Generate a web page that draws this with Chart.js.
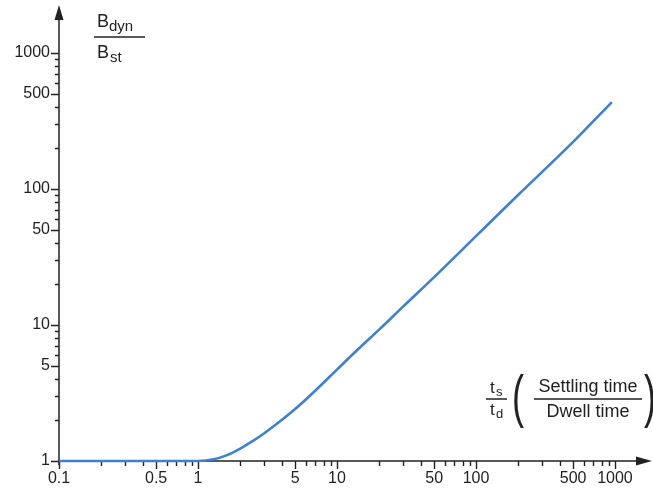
<!DOCTYPE html>
<html>
<head>
<meta charset="utf-8">
<script src="https://cdn.jsdelivr.net/npm/chart.js@4/dist/chart.umd.min.js"></script>
<style>
  html, body { margin: 0; padding: 0; background: #ffffff; }
  #wrap { width: 653px; height: 489px; }
</style>
</head>
<body>
<div id="wrap"><canvas id="c" width="653" height="489"></canvas></div>
<script>
// Ratio of settling time to dwell time (t_s / t_d)
const ratioX = [0.1, 0.2, 0.3, 0.5, 0.7, 1, 1.3, 1.6, 2, 2.5, 3, 4, 5, 7, 10, 15, 20, 30, 50, 100, 200, 500, 950];
// Dynamic to static ratio (B_dyn / B_st)
const ratioY = [1, 1, 1, 1, 1, 1, 1.03, 1.1, 1.23, 1.41, 1.6, 2.0, 2.41, 3.3, 4.7, 7, 9.2, 13.7, 22.5, 45, 90, 222, 436];

// Tick positions and which of them carry labels
const xTickValues = [0.1,0.2,0.3,0.4,0.5,0.6,0.7,0.8,0.9,1,2,3,4,5,6,7,8,9,10,20,30,40,50,60,70,80,90,100,200,300,400,500,600,700,800,900,1000];
const xTickLabels = [0.1, 0.5, 1, 5, 10, 50, 100, 500, 1000];
const yTickValues = [1,2,3,4,5,6,7,8,9,10,20,30,40,50,60,70,80,90,100,200,300,400,500,600,700,800,900,1000];
const yTickLabels = [1, 5, 10, 50, 100, 500, 1000];

const INK = '#222222';
const FONT = '"Liberation Sans", Arial, Helvetica, sans-serif';

function isLabeled(list, v) {
  return list.some(t => Math.abs(t - v) / t < 1e-6);
}

// Axis lines with arrows and short tick marks
const axesPlugin = {
  id: 'arrowAxes',
  beforeDatasetsDraw(chart) {
    const ctx = chart.ctx;
    const area = chart.chartArea;
    const xs = chart.scales.x, ys = chart.scales.y;
    const x0 = area.left, y0 = area.bottom;
    ctx.save();
    ctx.strokeStyle = INK;
    ctx.fillStyle = INK;
    ctx.lineWidth = 1.5;
    ctx.beginPath();
    ctx.moveTo(x0, y0 + 4);
    ctx.lineTo(x0, area.top + 12);
    ctx.moveTo(x0 - 1, y0);
    ctx.lineTo(area.right - 10, y0);
    ctx.stroke();
    // arrow heads
    ctx.beginPath();
    ctx.moveTo(x0, area.top);
    ctx.lineTo(x0 - 4.5, area.top + 15);
    ctx.lineTo(x0 + 4.5, area.top + 15);
    ctx.closePath();
    ctx.fill();
    ctx.beginPath();
    ctx.moveTo(area.right + 2, y0);
    ctx.lineTo(area.right - 14, y0 - 4.5);
    ctx.lineTo(area.right - 14, y0 + 4.5);
    ctx.closePath();
    ctx.fill();
    // tick marks
    ctx.lineWidth = 1.4;
    ctx.beginPath();
    ys.ticks.forEach(t => {
      const py = Math.round(ys.getPixelForValue(t.value)) + 0.5;
      const len = isLabeled(yTickLabels, t.value) ? 8 : 4;
      ctx.moveTo(x0 - len, py);
      ctx.lineTo(x0, py);
    });
    xs.ticks.forEach(t => {
      const px = Math.round(xs.getPixelForValue(t.value)) + 0.5;
      const len = isLabeled(xTickLabels, t.value) ? 8 : 5;
      ctx.moveTo(px, y0);
      ctx.lineTo(px, y0 + len);
    });
    ctx.stroke();
    ctx.restore();
  },
  afterDraw(chart) {
    const ctx = chart.ctx;
    ctx.save();
    ctx.fillStyle = INK;
    ctx.strokeStyle = INK;
    ctx.textBaseline = 'alphabetic';
    ctx.textAlign = 'left';
    // y-axis title: B_dyn / B_st
    ctx.font = '18px ' + FONT;
    ctx.fillText('B', 97, 27);
    ctx.fillText('B', 97, 58);
    ctx.font = '15px ' + FONT;
    ctx.fillText('dyn', 109, 31);
    ctx.fillText('st', 110, 62);
    ctx.lineWidth = 1.3;
    ctx.beginPath();
    ctx.moveTo(94, 37);
    ctx.lineTo(145, 37);
    ctx.stroke();

    // x-axis title: t_s / t_d (Settling time / Dwell time)
    ctx.font = '17px ' + FONT;
    ctx.fillText('t', 490, 393);
    ctx.fillText('t', 490, 415);
    ctx.font = '13px ' + FONT;
    ctx.fillText('s', 496, 396);
    ctx.fillText('d', 496, 418);
    ctx.beginPath();
    ctx.moveTo(486, 399);
    ctx.lineTo(507, 399);
    ctx.moveTo(534, 399);
    ctx.lineTo(642, 399);
    ctx.stroke();
    ctx.font = '18px ' + FONT;
    ctx.textAlign = 'center';
    ctx.fillText('Settling time', 588, 392);
    ctx.fillText('Dwell time', 588, 417);
    // tall parentheses
    ctx.save();
    ctx.translate(0, 398);
    ctx.scale(1, 1.6);
    ctx.font = '36px ' + FONT;
    ctx.fillText('(', 518, 11);
    ctx.fillText(')', 650, 11);
    ctx.restore();
    ctx.restore();
  }
};

const points = ratioX.map((x, i) => ({ x: x, y: ratioY[i] }));

new Chart(document.getElementById('c'), {
  type: 'line',
  data: {
    datasets: [{
      data: points,
      borderColor: '#3f80cf',
      borderWidth: 2.6,
      pointRadius: 0,
      fill: false,
      clip: false,
      cubicInterpolationMode: 'monotone'
    }]
  },
  options: {
    responsive: false,
    devicePixelRatio: 1,
    animation: false,
    events: [],
    layout: { autoPadding: false, padding: { top: 5, right: 3, left: 0, bottom: 0 } },
    plugins: { legend: { display: false }, tooltip: { enabled: false }, title: { display: false } },
    scales: {
      x: {
        type: 'logarithmic',
        min: 0.1,
        max: Math.pow(10, 3.252),
        grid: { display: false, drawTicks: false },
        border: { display: false },
        afterFit(scale) {
          scale.height = 28;
          scale.paddingLeft = 0;
          scale.paddingRight = 0;
        },
        afterBuildTicks(scale) { scale.ticks = xTickValues.map(v => ({ value: v })); },
        ticks: {
          autoSkip: false,
          maxRotation: 0,
          padding: 8,
          color: INK,
          font: { family: FONT, size: 16 },
          callback: v => isLabeled(xTickLabels, v) ? String(v) : ''
        }
      },
      y: {
        type: 'logarithmic',
        min: 1,
        max: Math.pow(10, 3.353),
        grid: { display: false, drawTicks: false },
        border: { display: false },
        afterFit(scale) {
          scale.width = 59;
          scale.paddingTop = 0;
          scale.paddingBottom = 0;
        },
        afterBuildTicks(scale) { scale.ticks = yTickValues.map(v => ({ value: v })); },
        ticks: {
          autoSkip: false,
          padding: 9,
          color: INK,
          font: { family: FONT, size: 16 },
          callback: v => isLabeled(yTickLabels, v) ? String(v) : ''
        }
      }
    }
  },
  plugins: [axesPlugin]
});
</script>
</body>
</html>
